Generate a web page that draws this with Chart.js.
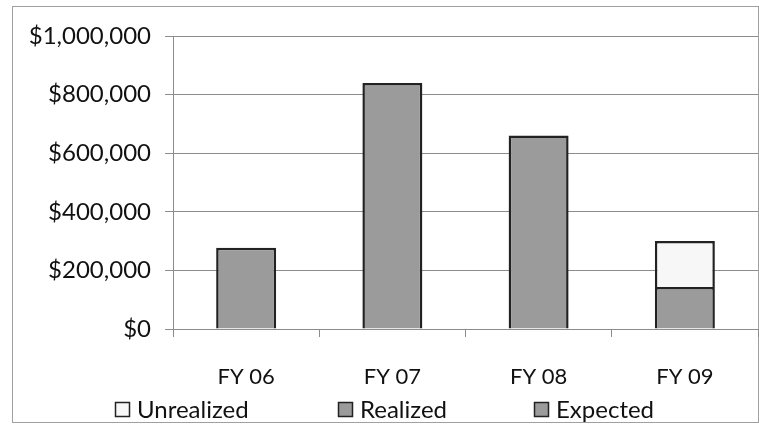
<!DOCTYPE html>
<html>
<head>
<meta charset="utf-8">
<script src="https://cdn.jsdelivr.net/npm/chart.js@4.4.0/dist/chart.umd.min.js"></script>
<style>
  html, body { margin: 0; padding: 0; background: #fff; }
  #wrap { position: relative; width: 759px; height: 427px; }
</style>
</head>
<body>
<div id="wrap"><canvas id="fundingChart" width="759" height="427"></canvas></div>
<script>
const years = ['FY 06', 'FY 07', 'FY 08', 'FY 09']
const realized = [277000, 840000, 660000, 143000]
const unrealized = [null, null, null, 157000]
const expected = [null, null, null, null]
const yTickLabels = ['$0', '$200,000', '$400,000', '$600,000', '$800,000', '$1,000,000']

const tickFont = { family: 'Lato', size: 24 }
const catFont = { family: 'Lato', size: 22 }
const textColor = '#111'
const lineColor = '#8c8c8c'
const barGray = '#9b9b9b'
const barEdge = '#222'

// outer frame round the whole chart
const chartFrame = {
  id: 'chartFrame',
  beforeDraw(chart) {
    const ctx = chart.ctx
    ctx.save()
    ctx.strokeStyle = '#a0a0a0'
    ctx.lineWidth = 1
    ctx.strokeRect(12.5, 6.5, 746, 416)
    ctx.restore()
  },
}

// legend drawn by hand so the items can sit far apart on one row
const legendOrder = [1, 0, 2]
const legendX = [115, 338, 534]
const bottomLegend = {
  id: 'bottomLegend',
  afterDraw(chart) {
    const ctx = chart.ctx
    const y = 410
    ctx.save()
    ctx.font = tickFont.size + 'px ' + tickFont.family
    ctx.textBaseline = 'middle'
    legendOrder.forEach((di, i) => {
      const ds = chart.data.datasets[di]
      const x = legendX[i]
      ctx.fillStyle = ds.backgroundColor
      ctx.fillRect(x, y - 8, 15, 15)
      ctx.strokeStyle = barEdge
      ctx.lineWidth = 1.5
      ctx.strokeRect(x + 0.5, y - 7.5, 14, 14)
      ctx.fillStyle = textColor
      ctx.fillText(ds.label, x + 22, y)
    })
    ctx.restore()
  },
}

new Chart(document.getElementById('fundingChart'), {
  type: 'bar',
  data: {
    labels: years,
    datasets: [
      { label: 'Realized', data: realized, backgroundColor: barGray },
      { label: 'Unrealized', data: unrealized, backgroundColor: '#f7f7f7' },
      { label: 'Expected', data: expected, backgroundColor: barGray },
    ],
  },
  options: {
    responsive: false,
    animation: false,
    devicePixelRatio: 1,
    layout: { padding: { left: 14, top: 36, right: 1, bottom: 40 } },
    datasets: {
      bar: {
        borderColor: barEdge,
        borderWidth: 2.5,
        categoryPercentage: 1,
        barPercentage: 0.41,
      },
    },
    plugins: {
      legend: { display: false },
      tooltip: { enabled: false },
    },
    scales: {
      x: {
        stacked: true,
        grid: { offset: true, drawOnChartArea: false, tickLength: 8, color: lineColor },
        border: { color: lineColor },
        ticks: { padding: 27, font: catFont, color: textColor },
        afterFit(scale) {
          scale.height = 58
        },
      },
      y: {
        stacked: true,
        min: 0,
        max: 1000000,
        ticks: {
          stepSize: 200000,
          padding: 14,
          font: tickFont,
          color: textColor,
          callback: (v, i) => yTickLabels[i],
        },
        grid: { color: lineColor, tickLength: 8 },
        border: { color: lineColor },
        afterFit(scale) {
          scale.width = 159
        },
      },
    },
  },
  plugins: [chartFrame, bottomLegend],
})
</script>
</body>
</html>
